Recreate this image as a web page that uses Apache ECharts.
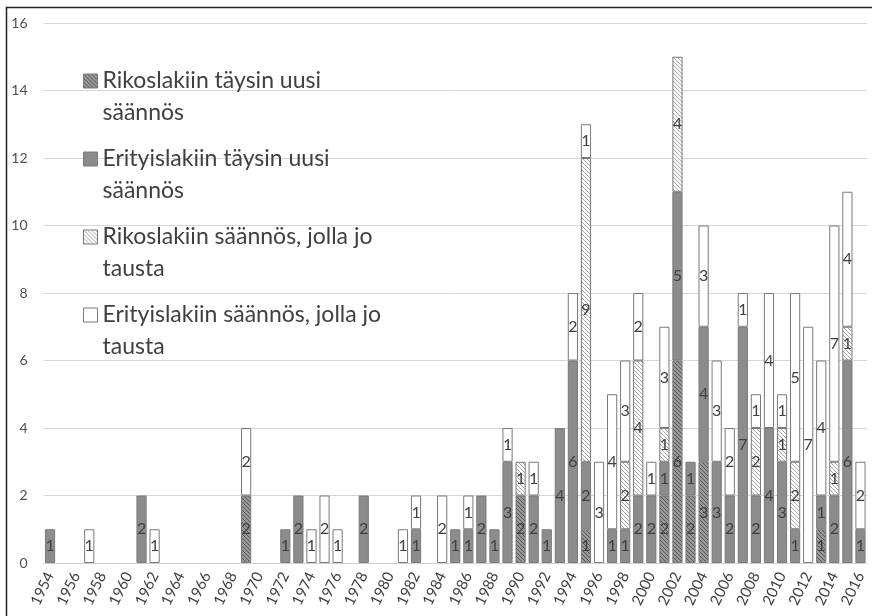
<!DOCTYPE html>
<html><head><meta charset="utf-8">
<script src="https://cdn.jsdelivr.net/npm/echarts@6/dist/echarts.min.js"></script>
<style>html,body{margin:0;padding:0;background:#fff}#c{width:872px;height:616px}</style>
</head><body><div id="c"></div>
<script>
var years = ['1954','1955','1956','1957','1958','1959','1960','1961','1962','1963',
'1964','1965','1966','1967','1968','1969','1970','1971','1972','1973',
'1974','1975','1976','1977','1978','1979','1980','1981','1982','1983',
'1984','1985','1986','1987','1988','1989','1990','1991','1992','1993',
'1994','1995','1996','1997','1998','1999','2000','2001','2002','2003',
'2004','2005','2006','2007','2008','2009','2010','2011','2012','2013',
'2014','2015','2016'];
var seriesNames = ['Rikoslakiin täysin uusi säännös','Erityislakiin täysin uusi säännös','Rikoslakiin säännös, jolla jo tausta','Erityislakiin säännös, jolla jo tausta'];
var rikosUusi = [0,0,0,0,0,0,0,0,0,0, 0,0,0,0,0,2,0,0,0,0, 0,0,0,0,0,0,0,0,0,0, 0,0,0,0,0,0,2,0,0,0, 0,1,0,0,0,0,0,2,6,2, 3,0,0,0,0,0,0,0,0,1, 0,0,0];
var erityisUusi = [1,0,0,0,0,0,0,2,0,0, 0,0,0,0,0,0,0,0,1,2, 0,0,0,0,2,0,0,0,1,0, 0,1,1,2,1,3,0,2,1,4, 6,2,0,1,1,2,2,1,5,1, 4,3,2,7,2,4,3,1,0,1, 2,6,1];
var rikosTausta = [0,0,0,0,0,0,0,0,0,0, 0,0,0,0,0,0,0,0,0,0, 0,0,0,0,0,0,0,0,0,0, 0,0,0,0,0,0,1,0,0,0, 0,9,0,0,2,4,0,1,4,0, 0,0,0,0,2,0,1,2,0,0, 1,1,0];
var erityisTausta = [0,0,0,1,0,0,0,0,1,0, 0,0,0,0,0,2,0,0,0,0, 1,2,1,0,0,0,0,1,1,0, 2,0,1,0,0,1,0,1,0,0, 2,1,3,4,3,2,1,3,0,0, 3,3,2,1,1,4,1,5,7,4, 7,4,2];
var yTicks = [0,2,4,6,8,10,12,14,16];

function hatch(bg, fg, size, lw) {
  var c = document.createElement('canvas');
  c.width = size; c.height = size;
  var g = c.getContext('2d');
  g.fillStyle = bg; g.fillRect(0,0,size,size);
  g.strokeStyle = fg; g.lineWidth = lw;
  g.beginPath();
  g.moveTo(-1,-1); g.lineTo(size+1,size+1);
  g.moveTo(-1,size-1); g.lineTo(1,size+1);
  g.moveTo(size-1,-1); g.lineTo(size+1,1);
  g.stroke();
  return c;
}
var darkHatch = {image: hatch('#979797','#5a5a5a',4,1), repeat:'repeat'};
var lightHatch = {image: hatch('#ffffff','#a8a8a8',4,1), repeat:'repeat'};
var fills = [darkHatch, '#8c8c8c', lightHatch, '#ffffff'];
var vals = [rikosUusi, erityisUusi, rikosTausta, erityisTausta];

var chart = echarts.init(document.getElementById('c'));
var FONT = 'Lato';
var series = seriesNames.map(function(n,i){
  return {
    name: n, type: 'bar', stack: 'all',
    barWidth: '78%',
    data: vals[i].map(function(v){ return v === 0 ? '-' : v; }),
    itemStyle: {color: fills[i], borderColor: '#7a7a7a', borderWidth: 1},
    label: {show: true, position: 'inside', color: '#404040', fontSize: 16, fontFamily: FONT,
      formatter: function(p){ return p.value ? String(p.value) : ''; }},
    emphasis: {disabled: true}
  };
});
var legendLines = {};
legendLines[seriesNames[0]] = '\nRikoslakiin täysin uusi\nsäännös';
legendLines[seriesNames[1]] = '\nErityislakiin täysin uusi\nsäännös';
legendLines[seriesNames[2]] = '\nRikoslakiin säännös, jolla jo\ntausta';
legendLines[seriesNames[3]] = '\nErityislakiin säännös, jolla jo\ntausta';

chart.setOption({
  animation: false,
  backgroundColor: '#ffffff',
  grid: {left: 43.5, right: 5, top: 23, bottom: 53, containLabel: false},
  legend: {
    orient: 'vertical', left: 83, top: 33, padding: 0,
    itemWidth: 14, itemHeight: 14, itemGap: -18,
    icon: 'rect',
    data: seriesNames,
    formatter: function(n){ return legendLines[n]; },
    textStyle: {fontFamily: FONT, fontSize: 23, color: '#404040', lineHeight: 32},
    itemStyle: {borderColor: '#7a7a7a', borderWidth: 1},
    selectedMode: false
  },
  xAxis: {
    type: 'category', data: years,
    axisLine: {lineStyle: {color: '#d0d0d0'}},
    axisTick: {show: false},
    axisLabel: {interval: 1, rotate: 64, fontFamily: FONT, fontSize: 15, color: '#404040', margin: 10}
  },
  yAxis: {
    type: 'value', min: yTicks[0], max: yTicks[yTicks.length-1], interval: 2,
    axisLine: {show: false}, axisTick: {show: false},
    splitLine: {lineStyle: {color: '#d6d6d6', width: 1}},
    axisLabel: {fontFamily: FONT, fontSize: 14, color: '#505050', margin: 16}
  },
  graphic: [{type: 'rect', shape: {x: 6.5, y: 7.5, width: 900, height: 700}, style: {fill: null, stroke: '#222', lineWidth: 1.5}, silent: true}],
  series: series
});
</script></body></html>
